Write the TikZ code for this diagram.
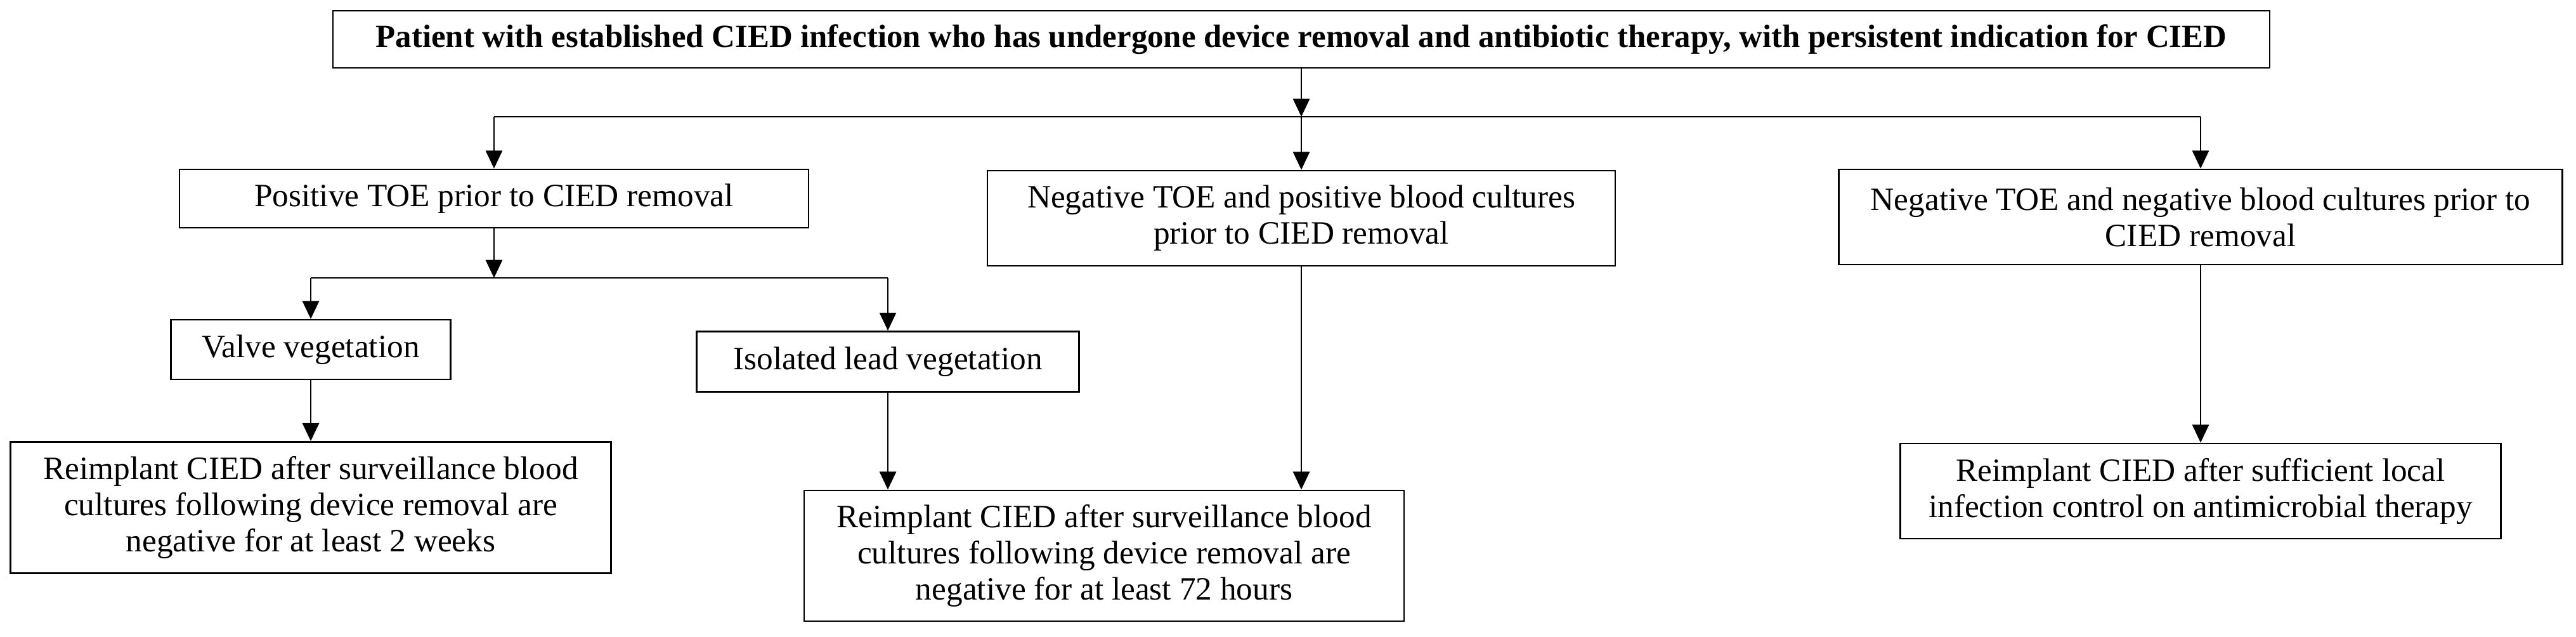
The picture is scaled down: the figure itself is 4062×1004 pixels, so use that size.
\documentclass[tikz,border=0pt]{standalone}
\usepackage{fontspec}
\setmainfont{Liberation Serif}
\usetikzlibrary{arrows.meta}

\begin{document}
\begin{tikzpicture}[x=0.23pt,y=-0.23pt,line width=0.6pt,
  box/.style={draw, align=center, inner sep=0pt, font=\fontsize{11.8}{13.1}\selectfont},
  >={Triangle[length=6.5pt,width=6pt]}]
\useasboundingbox (0,0) rectangle (4062,1004);
\node[box, minimum width=702.4pt, minimum height=20.7pt, font=\fontsize{11.7}{13}\selectfont\bfseries] (top) at (2052,62) {Patient with established CIED infection who has undergone device removal and antibiotic therapy, with persistent indication for CIED};
\node[box, minimum width=228.2pt, minimum height=21.2pt] (pos) at (779,313) {Positive TOE prior to CIED removal};
\node[box, minimum width=227.7pt, minimum height=34.5pt] (negpos) at (2052,344) {Negative TOE and positive blood cultures\\prior to CIED removal};
\node[box, minimum width=262.4pt, minimum height=34.5pt] (negneg) at (3470,342) {Negative TOE and negative blood cultures prior to\\CIED removal};
\node[box, minimum width=101.4pt, minimum height=21.6pt] (valve) at (490,551) {Valve vegetation};
\node[box, minimum width=138.7pt, minimum height=21.9pt] (lead) at (1400,570) {Isolated lead vegetation};
\node[box, minimum width=217.8pt, minimum height=47.6pt] (res1) at (490,800) {Reimplant CIED after surveillance blood\\cultures following device removal are\\negative for at least 2 weeks};
\node[box, minimum width=217.6pt, minimum height=47.4pt] (res2) at (1741,876) {Reimplant CIED after surveillance blood\\cultures following device removal are\\negative for at least 72 hours};
\node[box, minimum width=217.8pt, minimum height=34.5pt] (res3) at (3470,774) {Reimplant CIED after sufficient local\\infection control on antimicrobial therapy};

\coordinate (j1) at (2052,184);
\coordinate (j2) at (779,438);

\draw[->] (top) -- (j1);
\draw (pos |- j1) -- (negneg |- j1);
\draw[->] (pos |- j1) -- (pos);
\draw[->] (j1) -- (negpos);
\draw[->] (negneg |- j1) -- (negneg);
\draw[->] (pos) -- (j2);
\draw (valve |- j2) -- (lead |- j2);
\draw[->] (valve |- j2) -- (valve);
\draw[->] (lead |- j2) -- (lead);
\draw[->] (valve) -- (res1);
\draw[->] (lead) -- (lead |- res2.north);
\draw[->] (negpos) -- (negpos |- res2.north);
\draw[->] (negneg) -- (res3);
\end{tikzpicture}
\end{document}
